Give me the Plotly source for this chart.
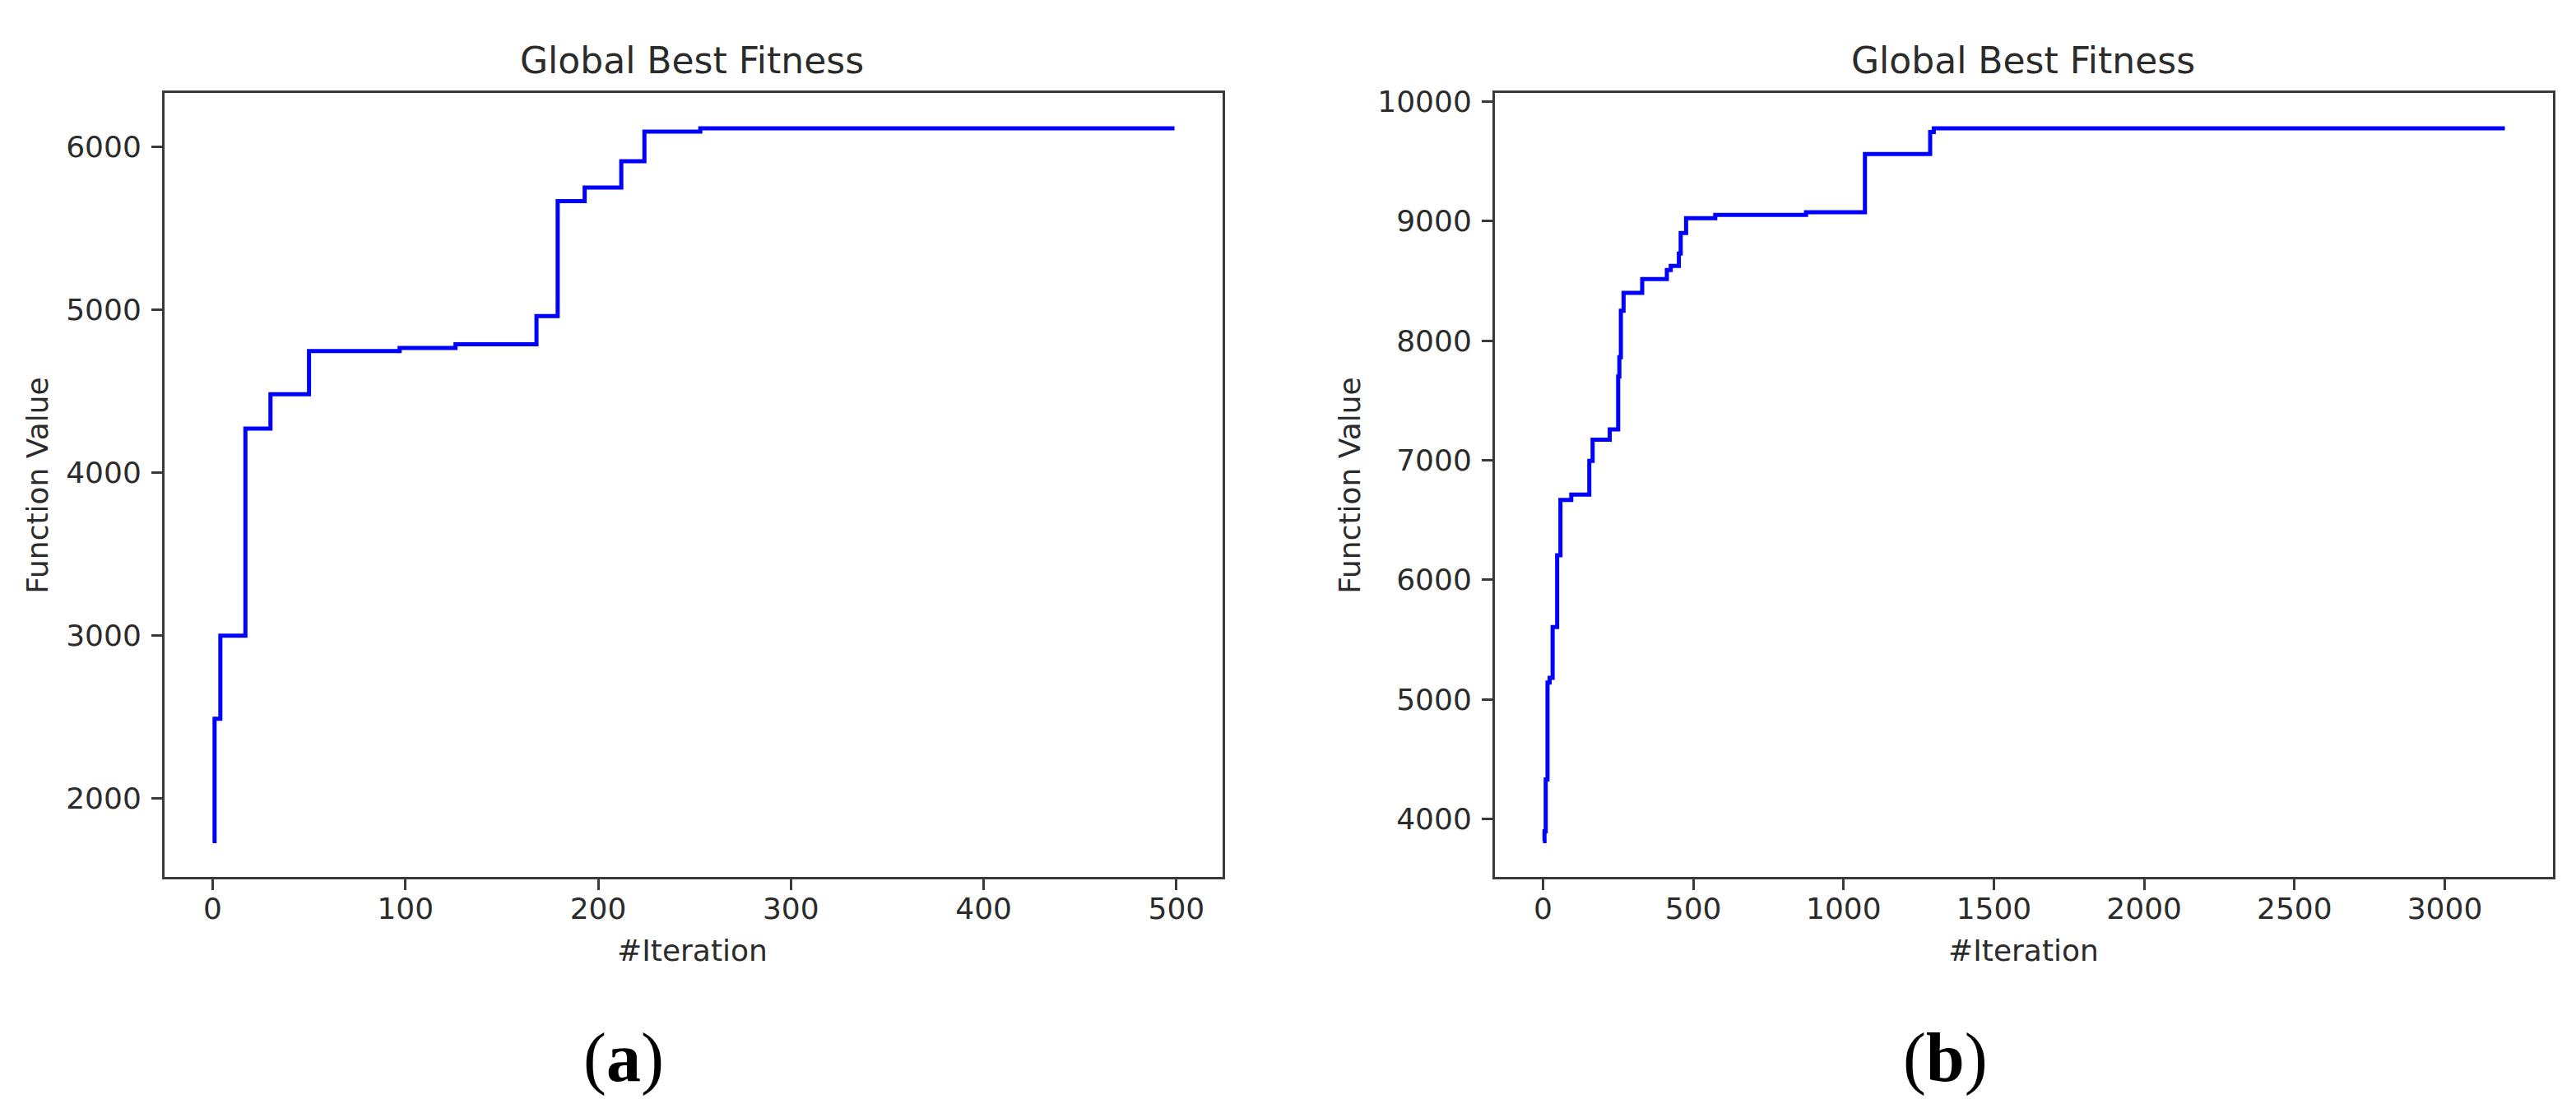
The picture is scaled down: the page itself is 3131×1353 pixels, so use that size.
import plotly.graph_objects as go

# ---------------- data ----------------
# (a) change points of the best-so-far fitness (value holds until next point)
a_iter = [0, 1, 4, 17, 30, 50, 97, 126, 168, 179, 193, 212, 224, 253, 499]
a_best = [1740, 2490, 3000, 4270, 4480, 4745, 4765, 4787, 4960, 5665, 5748,
          5910, 6092, 6112, 6112]

# (b)
b_iter = [0, 5, 9, 15, 22, 32, 47, 58, 94, 154, 165, 222, 250, 254, 259, 268,
          330, 412, 425, 452, 458, 476, 573, 875, 1071, 1288, 1300, 3200]
b_best = [3815, 3897, 4330, 5140, 5180, 5605, 6205, 6668, 6712, 6995, 7172,
          7257, 7700, 7861, 8250, 8400, 8515, 8590, 8625, 8728, 8900, 9024,
          9051, 9074, 9560, 9745, 9776, 9776]

a_xticks = [0, 100, 200, 300, 400, 500]
a_yticks = [2000, 3000, 4000, 5000, 6000]
b_xticks = [0, 500, 1000, 1500, 2000, 2500, 3000]
b_yticks = [4000, 5000, 6000, 7000, 8000, 9000, 10000]

title_text = "Global Best Fitness"
xlabel_text = "#Iteration"
ylabel_text = "Function Value"
panel_labels = ["(<b>a</b>)", "(<b>b</b>)"]

# ---------------- figure ----------------
W, H = 3131, 1353
OFF = 8  # page body margin of the exported html


def fx(p):
    return (p - OFF) / W


def fy(p):
    return 1 - (p - OFF) / H


def padded(vals, f=0.05):
    lo, hi = min(vals), max(vals)
    d = (hi - lo) * f
    return [lo - d, hi + d]


fig = go.Figure()
line_style = dict(color="#0000ff", width=5, shape="hv")
fig.add_trace(go.Scatter(x=a_iter, y=a_best, mode="lines", line=line_style,
                         xaxis="x", yaxis="y", showlegend=False))
fig.add_trace(go.Scatter(x=b_iter, y=b_best, mode="lines", line=line_style,
                         xaxis="x2", yaxis="y2", showlegend=False))

TXT = "#2b2b2b"
axis_common = dict(
    showline=True, linecolor="#3a3a3a", linewidth=3, mirror=True,
    ticks="outside", ticklen=13, tickwidth=2.5, tickcolor="#3a3a3a",
    showgrid=False, zeroline=False, tickformat="d",
    tickfont=dict(family="DejaVu Sans", size=36, color=TXT),
)
x_extra = dict(ticklabelstandoff=-8)
y_extra = dict(ticklabelstandoff=5)

ydom = [fy(1063.5), fy(103.3)]
fig.update_layout(
    width=W, height=H,
    margin=dict(l=0, r=0, t=0, b=0),
    paper_bgcolor="white", plot_bgcolor="white",
    xaxis=dict(domain=[fx(200), fx(1486)], range=padded(a_iter),
               tickvals=a_xticks, anchor="y", **axis_common, **x_extra),
    yaxis=dict(domain=ydom, range=padded(a_best), tickvals=a_yticks,
               anchor="x", **axis_common, **y_extra),
    xaxis2=dict(domain=[fx(1817), fx(3103)], range=padded(b_iter),
                tickvals=b_xticks, anchor="y2", **axis_common, **x_extra),
    yaxis2=dict(domain=ydom, range=padded(b_best), tickvals=b_yticks,
                anchor="x2", **axis_common, **y_extra),
)

txt_font = dict(family="DejaVu Sans", size=36, color=TXT)
ann = []
for cx, lab_x, ylab_x, plab in [(841, 758, 46, panel_labels[0]),
                                (2459, 2364, 1641, panel_labels[1])]:
    ann.append(dict(x=fx(cx), y=fy(64), xref="paper", yref="paper",
                    text=title_text, showarrow=False, xanchor="center",
                    yanchor="middle",
                    font=dict(family="DejaVu Sans", size=44, color=TXT)))
    ann.append(dict(x=fx(cx), y=fy(1154), xref="paper", yref="paper",
                    text=xlabel_text, showarrow=False, xanchor="center",
                    yanchor="middle", font=txt_font))
    ann.append(dict(x=fx(ylab_x), y=fy(585), xref="paper", yref="paper",
                    text=ylabel_text, showarrow=False, textangle=-90,
                    xanchor="center", yanchor="middle", font=txt_font))
    ann.append(dict(x=fx(lab_x), y=fy(1285), xref="paper", yref="paper",
                    text=plab, showarrow=False, xanchor="center",
                    yanchor="middle",
                    font=dict(family="Liberation Serif", size=84,
                              color="#000000")))
fig.update_layout(annotations=ann)

fig.write_html("out.html")
